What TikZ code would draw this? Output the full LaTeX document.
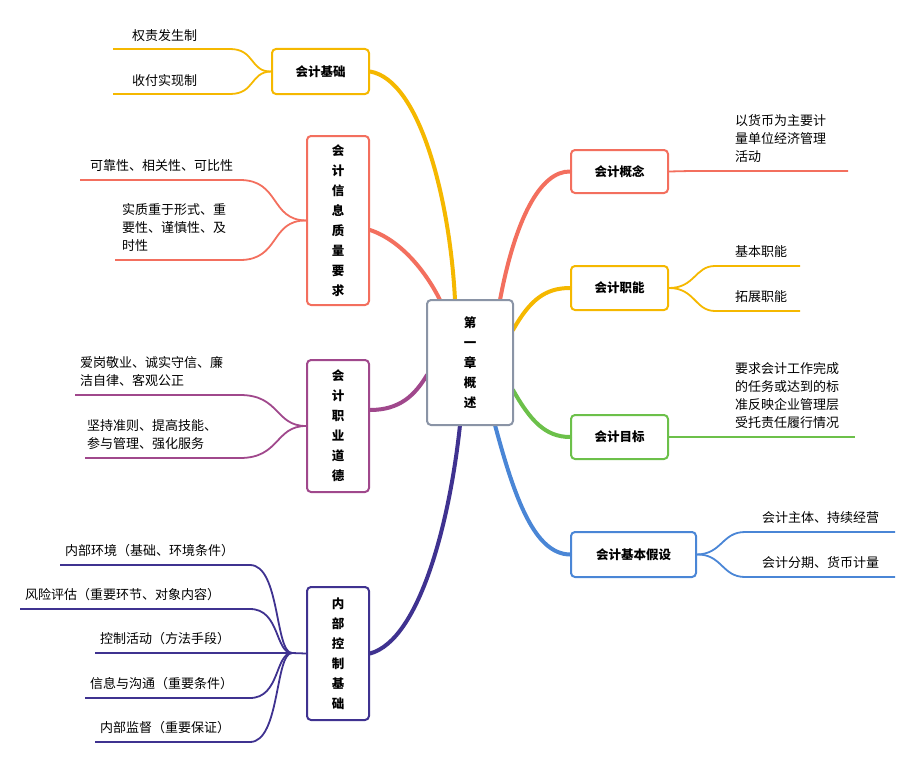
\documentclass[tikz,border=0pt]{standalone}
\usepackage{fontspec}
\setmainfont{Noto Sans CJK SC}
\tikzset{
  cbox/.style={draw, rounded corners=4pt, line width=2pt, fill=white, font=\bfseries\fontsize{12.5}{20}\selectfont, inner sep=0pt, align=center},
  leaf/.style={font=\fontsize{13}{18}\selectfont, align=left, anchor=south west, inner sep=2pt},
  twig/.style={line width=1.8pt},
  limb/.style={line width=4pt, line cap=round}
}
\definecolor{cRed}{HTML}{F36F5E}
\definecolor{cOra}{HTML}{F5B800}
\definecolor{cGrn}{HTML}{6CC04A}
\definecolor{cBlu}{HTML}{4A86D6}
\definecolor{cPur}{HTML}{A0488C}
\definecolor{cInd}{HTML}{3F3290}
\definecolor{cGry}{HTML}{8A94A6}
\begin{document}
\begin{tikzpicture}[x=1pt,y=-1pt]
\useasboundingbox (0,0) rectangle (912,760);
% branches from the centre
\coordinate (c1) at (455,300); \coordinate (c2) at (440,300);
\coordinate (c3) at (427,375); \coordinate (c4) at (460,425);
\coordinate (c5) at (500,300); \coordinate (c6) at (513,330);
\coordinate (c7) at (513,390); \coordinate (c8) at (495,425);
\node[cbox, draw=cOra, minimum width=97pt, minimum height=45pt] (jichu) at (320.5,71.5) {会计基础};
\node[cbox, draw=cRed, minimum width=62pt, minimum height=169pt] (zhiliang) at (338,220.5) {会\\计\\信\\息\\质\\量\\要\\求};
\node[cbox, draw=cPur, minimum width=62pt, minimum height=132pt] (daode) at (338,426) {会\\计\\职\\业\\道\\德};
\node[cbox, draw=cInd, minimum width=62pt, minimum height=133pt] (kongzhi) at (338,653.5) {内\\部\\控\\制\\基\\础};
\node[cbox, draw=cRed, minimum width=97pt, minimum height=43pt] (gainian) at (619.5,171.5) {会计概念};
\node[cbox, draw=cOra, minimum width=97pt, minimum height=44pt] (zhineng) at (619.5,288) {会计职能};
\node[cbox, draw=cGrn, minimum width=97pt, minimum height=44pt] (mubiao) at (619.5,437) {会计目标};
\node[cbox, draw=cBlu, minimum width=125pt, minimum height=45pt] (jiashe) at (633.5,554.5) {会计基本假设};
\draw[limb, cOra] (jichu.east) .. controls (420,80) and (450,200) .. (c1);
\draw[limb, cRed] (zhiliang.east |- 0,230) .. controls (400,240) and (425,270) .. (c2);
\draw[limb, cPur] (daode.east |- 0,410) .. controls (400,410) and (415,395) .. (c3);
\draw[limb, cInd] (kongzhi.east) .. controls (420,640) and (450,520) .. (c4);
\draw[limb, cRed] (c5) .. controls (515,220) and (540,171) .. (gainian.west);
\draw[limb, cOra] (c6) .. controls (530,300) and (545,288) .. (zhineng.west);
\draw[limb, cGrn] (c7) .. controls (530,420) and (545,437) .. (mubiao.west);
\draw[limb, cBlu] (c8) .. controls (515,500) and (535,554) .. (jiashe.west);
\node[cbox, draw=cGry, minimum width=86pt, minimum height=125pt] (zhang) at (470,362.5) {第\\一\\章\\概\\述};
% left leaves
\coordinate (a1) at (230,49); \coordinate (a2) at (230,94);
\draw[twig, cOra] (jichu.west) .. controls (250,72) and (255,49) .. (a1) -- (113,49);
\draw[twig, cOra] (jichu.west) .. controls (250,72) and (255,94) .. (a2) -- (113,94);
\node[leaf] at (130,44) {权责发生制};
\node[leaf] at (130,89) {收付实现制};
\coordinate (b1) at (240,180); \coordinate (b2) at (240,260);
\draw[twig, cRed] (zhiliang.west) .. controls (270,220) and (280,180) .. (b1) -- (80,180);
\draw[twig, cRed] (zhiliang.west) .. controls (270,220) and (280,260) .. (b2) -- (115,260);
\node[leaf] at (88,174) {可靠性、相关性、可比性};
\node[leaf] at (120,254) {实质重于形式、重\\要性、谨慎性、及\\时性};
\coordinate (d1) at (240,395); \coordinate (d2) at (240,458);
\draw[twig, cPur] (daode.west) .. controls (275,426) and (280,395) .. (d1) -- (75,395);
\draw[twig, cPur] (daode.west) .. controls (275,426) and (280,458) .. (d2) -- (85,458);
\node[leaf] at (78,389) {爱岗敬业、诚实守信、廉\\洁自律、客观公正};
\node[leaf] at (85,452) {坚持准则、提高技能、\\参与管理、强化服务};
\coordinate (k0) at (292,653);
\draw[twig, cInd] (kongzhi.west) -- (k0);
\foreach \ky/\kx/\kt in {565/60/内部环境（基础、环境条件）, 609/20/风险评估（重要环节、对象内容）, 653/95/控制活动（方法手段）, 698/85/信息与沟通（重要条件）, 742/95/内部监督（重要保证）}{
  \coordinate (k\ky) at (250,\ky);
  \draw[twig, cInd] (k0) .. controls (275,653) and (280,\ky) .. (k\ky) -- (\kx,\ky);
  \node[leaf] at (\kx+3,\ky-6) {\kt};
}
% right leaves
\coordinate (g1) at (690,171);
\draw[twig, cRed] (gainian.east) -- (g1) -- (848,171);
\node[leaf] at (733,165) {以货币为主要计\\量单位经济管理\\活动};
\coordinate (z1) at (715,266); \coordinate (z2) at (715,311);
\draw[twig, cOra] (zhineng.east) .. controls (695,288) and (695,266) .. (z1) -- (800,266);
\draw[twig, cOra] (zhineng.east) .. controls (695,288) and (695,311) .. (z2) -- (800,311);
\node[leaf] at (733,260) {基本职能};
\node[leaf] at (733,305) {拓展职能};
\coordinate (m1) at (690,437);
\draw[twig, cGrn] (mubiao.east) -- (m1) -- (855,437);
\node[leaf] at (733,431) {要求会计工作完成\\的任务或达到的标\\准反映企业管理层\\受托责任履行情况};
\coordinate (s1) at (745,532); \coordinate (s2) at (745,577);
\draw[twig, cBlu] (jiashe.east) .. controls (722,554) and (722,532) .. (s1) -- (895,532);
\draw[twig, cBlu] (jiashe.east) .. controls (722,554) and (722,577) .. (s2) -- (895,577);
\node[leaf] at (760,526) {会计主体、持续经营};
\node[leaf] at (760,571) {会计分期、货币计量};
\end{tikzpicture}
\end{document}
